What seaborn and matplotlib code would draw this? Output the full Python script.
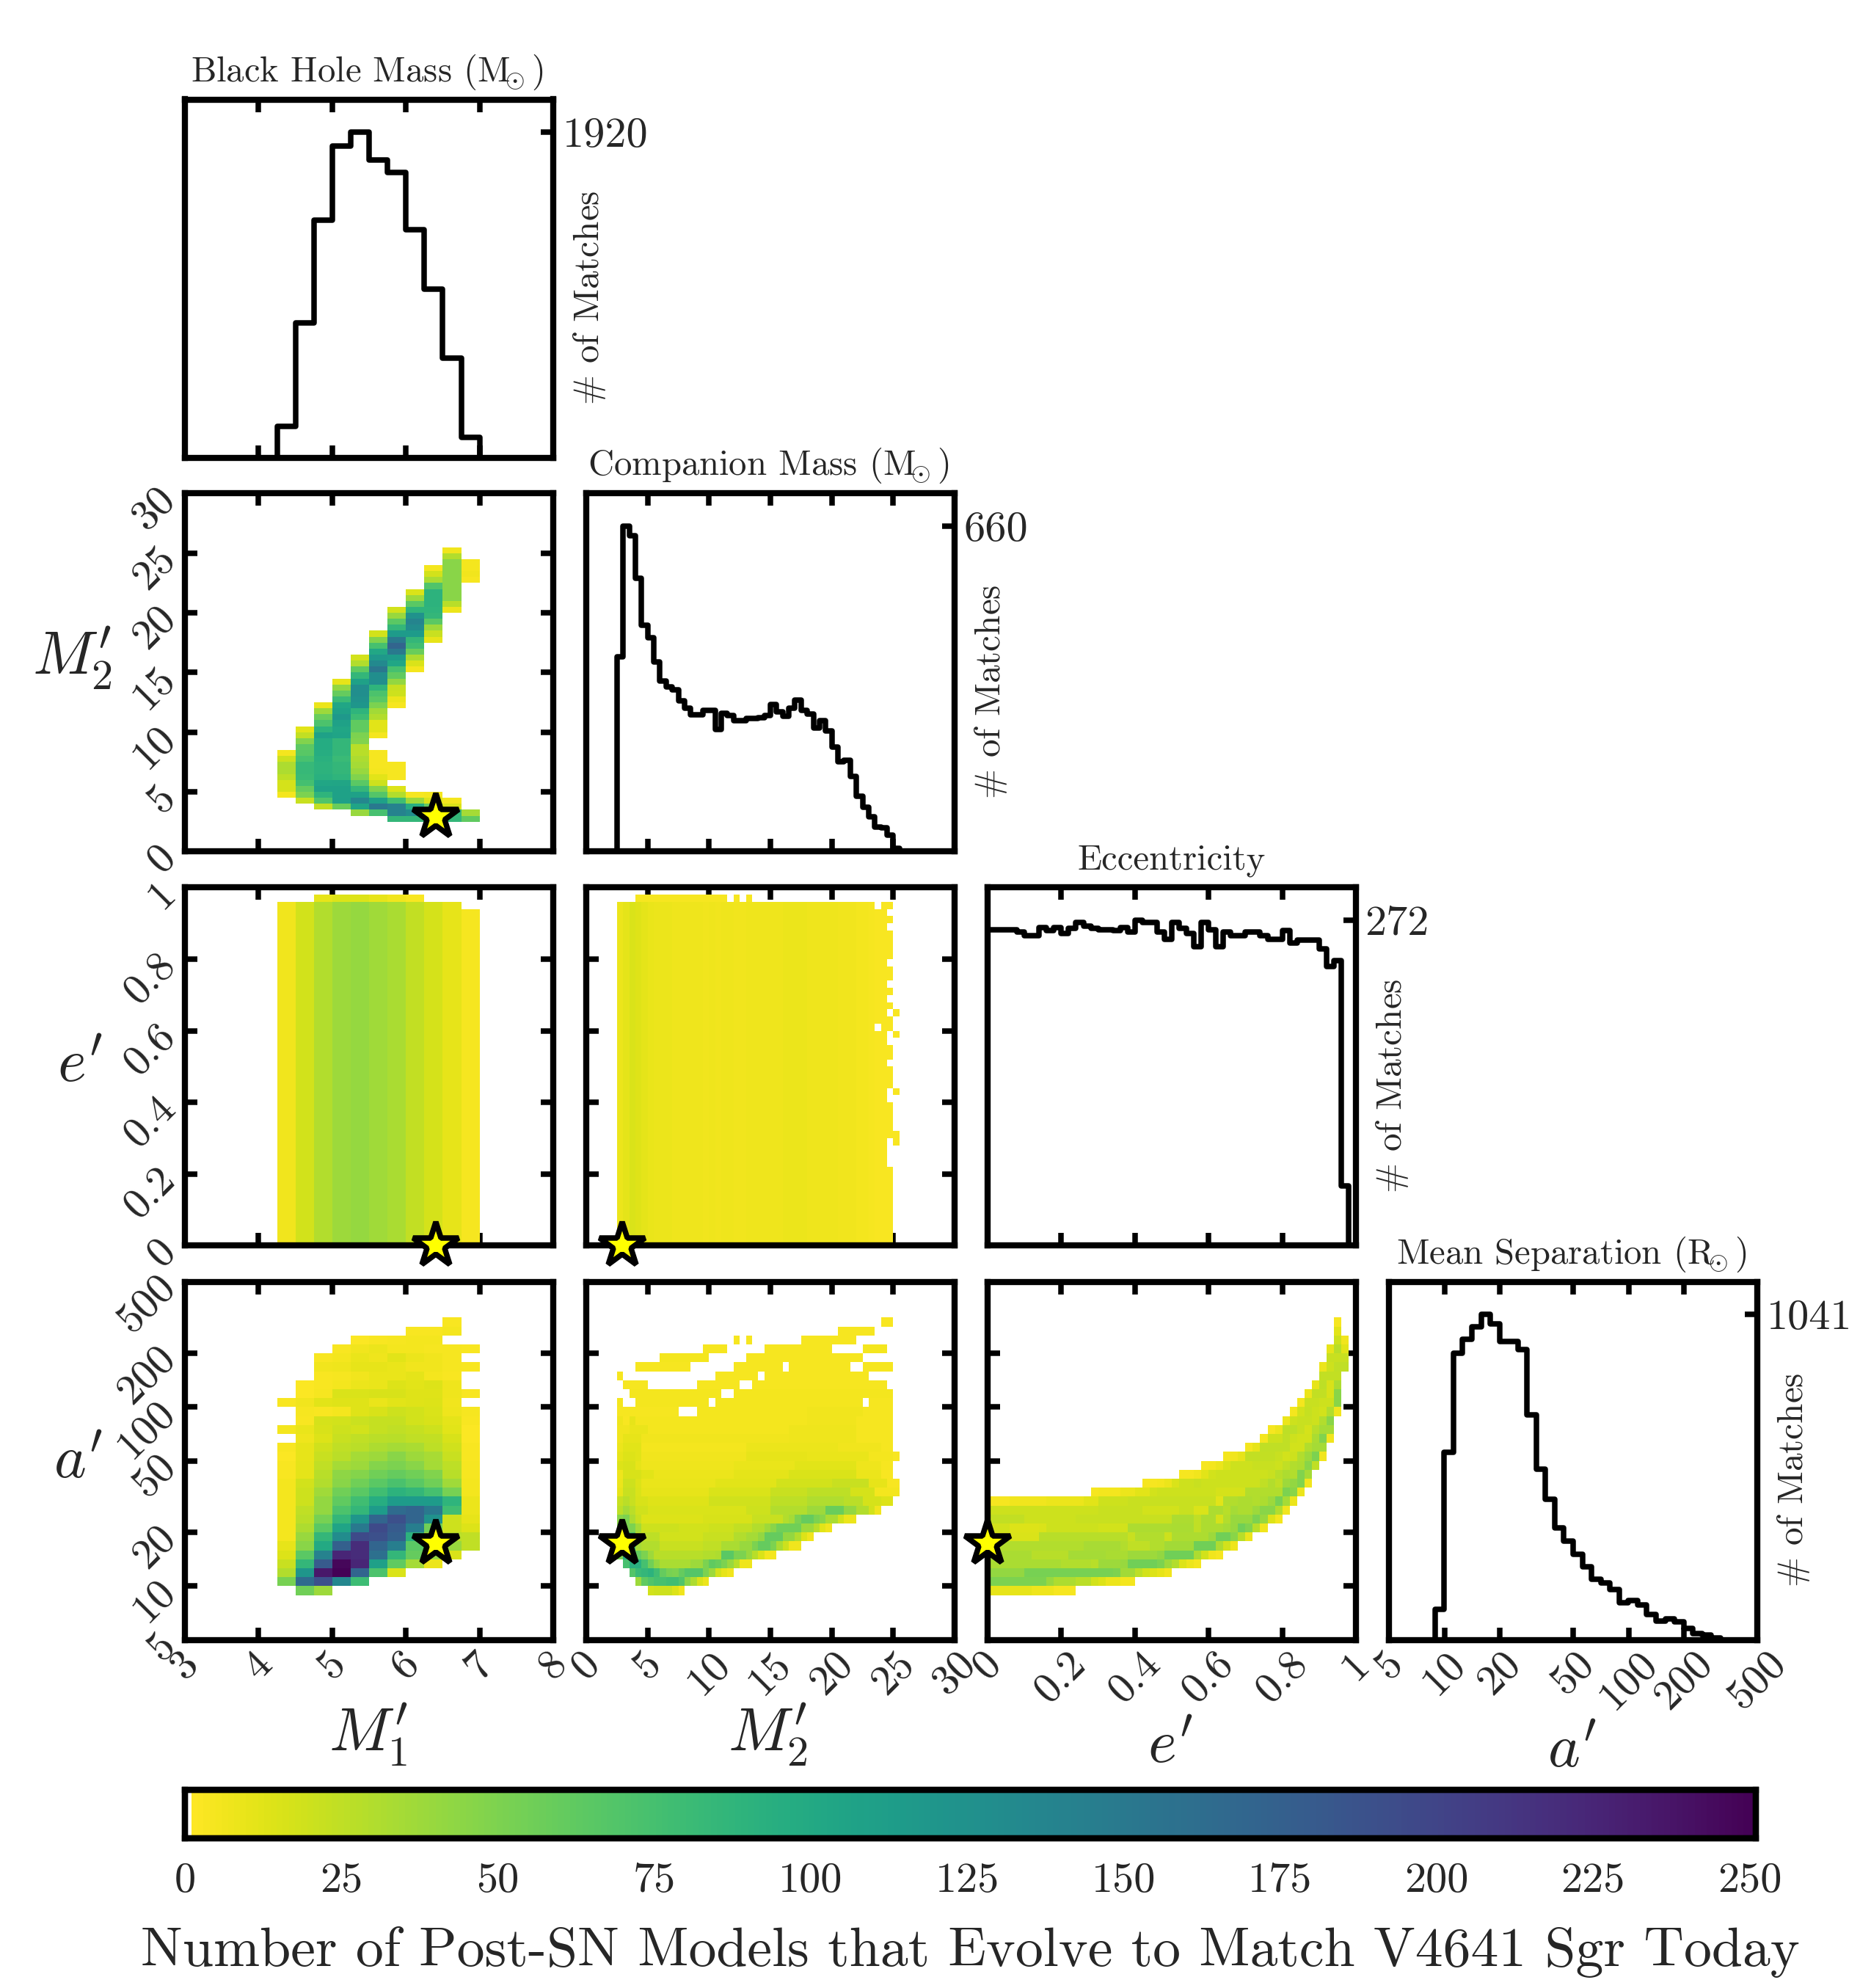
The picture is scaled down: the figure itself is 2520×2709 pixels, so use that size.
import numpy as np
import matplotlib
matplotlib.use("Agg")
import matplotlib.pyplot as plt
import seaborn as sns

# axis definitions: limits, number of bins, ticks
m1_lim, m1_bins = (3.0, 8.0), 20
m2_lim, m2_bins = (0.0, 30.0), 60
ecc_lim, ecc_bins = (0.0, 1.0), 50
sep_lim, sep_bins = (np.log10(5), np.log10(500)), 40

m1_ticks = [3, 4, 5, 6, 7, 8]
m2_ticks = [0, 5, 10, 15, 20, 25, 30]
ecc_ticks = [0, 0.2, 0.4, 0.6, 0.8, 1]
ecc_ticklabels = ["0", "0.2", "0.4", "0.6", "0.8", "1"]
sep_ticks = [5, 10, 20, 50, 100, 200, 500]

star_m1, star_m2, star_ecc, star_sep = 6.41, 2.9, 0.0, 17.3

# 1d histograms
hist_m1 = [0]*5 + [183, 793, 1399, 1839, 1920, 1753, 1683, 1343, 992, 585, 120] + [0]*4
hist_m2 = [0]*5 + [395, 660, 640, 554, 459, 433, 384, 345, 334, 328, 305, 291, 277, 278, 286, 286,
                   247, 281, 276, 265, 265, 270, 270, 271, 276, 298, 284, 275, 290, 307, 286, 279,
                   250, 266, 245, 212, 182, 185, 152, 112, 90, 71, 49, 48, 34, 6] + [0]*9
hist_ecc = [264, 264, 264, 264, 262, 259, 259, 266, 263, 266, 261, 265, 270, 267, 265, 264, 264,
            263, 266, 262, 272, 270, 270, 262, 256, 270, 265, 261, 250, 270, 264, 250, 262, 259,
            259, 262, 262, 259, 256, 256, 263, 253, 255, 255, 255, 248, 233, 238, 50, 0]
hist_sep = [0]*5 + [98, 600, 916, 961, 1000, 1041, 1011, 953, 953, 928, 720, 546, 449, 358, 315,
                    273, 234, 194, 181, 161, 118, 125, 111, 81, 60, 66, 57, 36, 21, 15, 6] + [0]*4

# M2 vs M1: per M1 column, first M2 bin and counts going up
m2_m1_first_col = 5
m2_m1_cols = [
    (9, [5, 17, 17, 26, 32, 32, 20, 5]),
    (8, [22, 50, 60, 76, 82, 84, 84, 74, 66, 64, 48, 24, 12]),
    (7, [24, 70, 88, 108, 103, 92, 90, 90, 92, 95, 97, 97, 108, 90, 72, 58, 38, 8]),
    (7, [58, 110, 108, 108, 104, 88, 85, 85, 82, 85, 85, 85, 105, 103, 108, 118, 108, 103, 82, 60, 42, 10]),
    (6, [40, 105, 135, 108, 85, 65, 48, 40, 35, 32, 28, 28, 48, 50, 62, 62, 80, 88, 120, 125, 128, 128,
         108, 85, 62, 30, 18]),
    (6, [75, 150, 110, 68, 48, 20, 12, 5, 4, 4, 4, 0, 0, 5, 12, 12, 30, 36, 50, 65, 72, 88, 128, 128,
         152, 133, 118, 102, 75, 48, 18]),
    (5, [85, 140, 140, 78, 30, 14, 0, 4, 4, 4] + [0]*9 + [4, 8, 20, 22, 42, 62, 75, 103, 115, 150, 170,
         150, 115, 85, 65, 40, 18]),
    (5, [85, 130, 95, 38, 4] + [0]*20 + [5, 15, 32, 58, 78, 85, 115, 130, 138, 125, 88, 65, 38, 15]),
    (5, [85, 100, 60, 15, 5] + [0]*25 + [10, 22, 38, 65, 85, 88, 90, 90, 90, 70, 33, 18, 5]),
    (5, [85, 85, 15, 5] + [0]*31 + [8, 28, 45, 45, 45, 45, 45, 45, 45, 30, 6]),
    (5, [62, 35] + [0]*38 + [4, 6, 5, 5]),
]

# e vs M1: column levels, top row of each column
ecc_m1_levels = [6, 18, 30, 38, 41, 37, 33, 24, 17, 10, 4]
ecc_m1_tops = [47, 47, 47, 47, 47, 47, 47, 47, 47, 47, 46]
ecc_m1_extra_row = [0, 0, 10, 14, 14, 10, 6, 3, 0, 0, 0]

# e vs M2: column levels (from M2=2.5), last filled column of each e row
ecc_m2_levels = [8, 11, 15, 13, 11, 9, 8, 8, 8, 7, 7, 7, 7, 7, 6, 7, 6, 7, 7, 6, 6, 7, 7, 7, 7, 7, 7,
                 8, 8, 8, 8, 7, 7, 7, 7, 7, 6, 6, 6, 5, 5, 4, 3, 3, 3, 3]
ecc_m2_last = [44]*11 + [43]*3 + [43, 45] + [44]*4 + [43, 43] + [44]*3 + [43, 44, 44, 43, 43, 44, 44,
               43, 44, 43, 44, 43, 44, 44, 43, 44, 44, 44, 44, 43, 44, 43, 44]
ecc_m2_far_cells = [14, 21, 29, 32]
ecc_m2_holes = [(30, 42), (47, 42)]
ecc_m2_row48 = [3, 4, 5, 6, 7, 8, 9, 10, 11, 12, 13, 14, 15, 16, 17, 19, 21]

# a vs M1: from a-bin 5 upwards, one list of 11 M1 bins per row
sep_m1_rows = [
    [0, 55, 38, 0, 0, 0, 0, 0, 0, 0, 0],
    [52, 165, 190, 135, 80, 0, 0, 0, 0, 0, 0],
    [30, 120, 235, 250, 170, 72, 15, 0, 0, 0, 0],
    [22, 85, 180, 247, 225, 110, 62, 35, 8, 0, 0],
    [14, 65, 140, 225, 220, 160, 85, 60, 40, 15, 0],
    [10, 45, 100, 175, 220, 170, 145, 65, 50, 40, 25],
    [5, 40, 85, 130, 195, 190, 175, 90, 40, 28, 25],
    [5, 32, 65, 105, 150, 195, 180, 145, 55, 20, 14],
    [5, 27, 52, 85, 120, 170, 190, 170, 125, 20, 10],
    [5, 25, 42, 72, 85, 115, 165, 170, 150, 78, 8],
    [5, 20, 42, 62, 78, 95, 115, 115, 115, 88, 8],
    [5, 20, 37, 55, 65, 78, 90, 85, 75, 52, 5],
    [5, 18, 30, 45, 55, 65, 73, 65, 55, 37, 5],
    [3, 11, 28, 43, 47, 55, 60, 55, 48, 28, 4],
    [3, 11, 25, 35, 38, 47, 50, 45, 35, 26, 4],
    [2, 10, 22, 27, 35, 38, 45, 38, 34, 22, 3],
    [3, 10, 19, 25, 27, 32, 35, 33, 26, 19, 3],
    [0, 7, 14, 22, 25, 27, 28, 25, 24, 16, 2],
    [5, 9, 16, 20, 18, 23, 25, 23, 20, 12, 2],
    [0, 3, 17, 18, 21, 23, 23, 18, 16, 11, 3],
    [0, 4, 3, 5, 13, 16, 20, 18, 15, 7, 4],
    [3, 6, 12, 13, 13, 9, 12, 13, 14, 6, 0],
    [0, 2, 4, 15, 15, 16, 16, 13, 13, 7, 3],
    [0, 2, 3, 5, 8, 9, 14, 12, 14, 7, 0],
    [0, 0, 3, 4, 6, 9, 9, 11, 5, 3, 0],
    [0, 0, 6, 7, 10, 10, 9, 6, 6, 4, 3],
    [0, 0, 3, 5, 9, 7, 12, 8, 6, 4, 0],
    [0, 0, 0, 3, 6, 8, 5, 5, 4, 4, 3],
    [0, 0, 0, 0, 2, 3, 4, 5, 5, 0, 0],
    [0, 0, 0, 0, 0, 0, 0, 3, 3, 5, 0],
    [0, 0, 0, 0, 0, 0, 0, 0, 0, 3, 0],
]

# a vs M2: runs (first col, last col, count) per a-bin, from a-bin 5 upwards. col 0 is M2=2.5
sep_m2_runs = [
    [(5, 8, 20), (5, 5, 18), (9, 9, 14), (10, 10, 6)],
    [(3, 3, 38), (4, 4, 62), (5, 5, 70), (6, 7, 75), (8, 9, 78), (10, 10, 70), (11, 11, 45), (12, 12, 32), (13, 13, 15), (14, 14, 8)],
    [(2, 2, 68), (3, 3, 82), (4, 4, 85), (5, 5, 90), (6, 6, 78), (7, 7, 60), (8, 8, 52), (9, 9, 50), (10, 10, 60), (11, 13, 68), (14, 14, 50), (15, 15, 38), (16, 16, 18), (17, 17, 10), (18, 18, 6)],
    [(1, 1, 75), (2, 3, 92), (4, 4, 75), (5, 5, 55), (6, 6, 42), (7, 11, 33), (12, 13, 38), (14, 14, 50), (15, 15, 62), (16, 16, 58), (17, 17, 50), (18, 18, 40), (19, 19, 28), (20, 21, 7)],
    [(0, 0, 50), (1, 1, 95), (2, 2, 100), (3, 3, 60), (4, 4, 50), (5, 5, 38), (6, 13, 28), (14, 15, 30), (16, 16, 32), (17, 18, 65), (19, 20, 50), (21, 21, 40), (22, 22, 28), (23, 23, 15), (24, 25, 5)],
    [(0, 1, 90), (2, 2, 80), (3, 3, 35), (4, 6, 30), (7, 13, 22), (14, 16, 25), (17, 19, 33), (20, 21, 40), (22, 22, 50), (23, 24, 60), (25, 25, 50), (26, 26, 33), (27, 27, 20), (28, 29, 6)],
    [(0, 2, 70), (3, 6, 26), (7, 13, 18), (14, 18, 22), (19, 20, 30), (21, 22, 35), (23, 23, 42), (24, 26, 60), (27, 28, 42), (29, 29, 30), (30, 30, 14), (31, 31, 6)],
    [(0, 2, 50), (3, 3, 35), (4, 9, 20), (10, 14, 18), (15, 18, 20), (19, 21, 24), (22, 23, 30), (24, 24, 38), (25, 25, 45), (26, 29, 55), (30, 31, 38), (32, 32, 28), (33, 33, 12), (34, 34, 6)],
    [(0, 0, 45), (1, 1, 50), (2, 2, 32), (3, 3, 22), (4, 13, 14), (14, 21, 16), (22, 26, 22), (27, 27, 30), (28, 28, 35), (29, 29, 50), (30, 31, 60), (32, 32, 50), (33, 33, 45), (34, 35, 33), (36, 36, 18), (37, 38, 8)],
    [(0, 0, 26), (1, 1, 35), (2, 2, 27), (3, 4, 19), (5, 20, 15), (21, 24, 20), (25, 30, 30), (31, 33, 38), (34, 36, 58), (37, 38, 42), (39, 40, 30), (41, 41, 18), (42, 42, 6)],
    [(0, 0, 22), (1, 1, 27), (2, 2, 22), (3, 4, 16), (5, 14, 13), (15, 24, 19), (25, 30, 26), (31, 36, 31), (37, 39, 27), (40, 42, 17), (43, 44, 14)],
    [(0, 0, 10), (1, 2, 22), (3, 3, 15), (4, 14, 10), (15, 24, 15), (25, 30, 22), (31, 37, 26), (38, 41, 17), (42, 45, 5)],
    [(0, 0, 8), (1, 2, 20), (3, 3, 14), (4, 15, 9), (16, 25, 12), (26, 34, 18), (35, 40, 22), (41, 43, 10), (44, 45, 3)],
    [(0, 0, 7), (1, 3, 16), (4, 5, 12), (6, 18, 8), (19, 27, 11), (28, 38, 15), (39, 42, 8), (43, 44, 3)],
    [(0, 0, 14), (1, 2, 16), (3, 3, 10), (4, 18, 7), (19, 28, 9), (29, 38, 12), (39, 42, 7), (43, 44, 4)],
    [(0, 0, 10), (1, 2, 14), (3, 3, 12), (4, 20, 6), (21, 30, 10), (31, 40, 9), (41, 44, 5), (45, 45, 3)],
    [(0, 0, 8), (1, 3, 12), (4, 20, 5), (21, 35, 8), (36, 42, 6), (43, 44, 4)],
    [(0, 0, 6), (1, 3, 10), (4, 27, 6), (28, 38, 7), (39, 44, 4)],
    [(0, 1, 6), (2, 4, 9), (5, 27, 5), (28, 38, 7), (39, 44, 4)],
    [(0, 0, 7), (1, 1, 3), (2, 2, 10), (3, 30, 5), (31, 38, 6), (39, 44, 4)],
    [(0, 9, 4), (13, 30, 5), (31, 39, 6), (40, 44, 4)],
    [(0, 0, 5), (3, 14, 5), (16, 39, 5), (41, 44, 4)],
    [(2, 16, 5), (19, 44, 5)],
    [(1, 4, 4), (13, 19, 4), (22, 43, 4)],
    [(0, 0, 4), (16, 22, 4), (24, 40, 4)],
    [(3, 11, 4), (19, 26, 4), (28, 37, 4), (40, 44, 4)],
    [(7, 14, 5), (21, 39, 4)],
    [(14, 17, 4), (24, 34, 4), (40, 43, 5)],
    [(19, 19, 4), (21, 21, 4), (30, 38, 4)],
    [(36, 41, 4)],
    [(43, 44, 3)],
]

# a vs e: runs (first col, last col, count) per a-bin, from a-bin 5 upwards
sep_ecc_runs = [
    [(0, 5, 10), (6, 8, 7), (9, 11, 4)],
    [(0, 7, 50), (8, 8, 40), (9, 11, 32), (12, 13, 27), (14, 14, 18), (15, 15, 14), (16, 17, 8), (18, 19, 5)],
    [(0, 4, 42), (5, 16, 52), (17, 17, 50), (18, 19, 36), (20, 20, 26), (21, 21, 18), (22, 22, 14), (23, 23, 10), (24, 24, 6)],
    [(0, 9, 33), (10, 13, 30), (14, 14, 28), (15, 17, 38), (18, 18, 40), (19, 22, 55), (23, 23, 50), (24, 24, 38), (25, 25, 30), (26, 26, 14), (27, 27, 8), (28, 28, 5)],
    [(0, 5, 33), (6, 10, 28), (11, 15, 35), (16, 18, 33), (19, 22, 38), (23, 23, 42), (24, 27, 55), (28, 28, 32), (29, 29, 18), (30, 30, 6), (31, 31, 4)],
    [(0, 12, 30), (13, 17, 34), (18, 18, 30), (19, 21, 25), (22, 23, 30), (24, 27, 36), (28, 30, 55), (31, 31, 32), (32, 32, 18), (33, 33, 7)],
    [(0, 6, 15), (7, 18, 28), (19, 19, 22), (20, 23, 30), (24, 24, 20), (25, 29, 32), (30, 30, 38), (31, 32, 55), (33, 33, 45), (34, 34, 28), (35, 35, 8)],
    [(0, 2, 18), (3, 6, 14), (7, 7, 15), (8, 14, 20), (15, 18, 18), (19, 24, 32), (25, 27, 33), (28, 28, 25), (29, 31, 32), (32, 32, 35), (33, 33, 40), (34, 34, 55), (35, 35, 48), (36, 36, 28), (37, 37, 6)],
    [(0, 4, 24), (5, 11, 20), (12, 24, 22), (25, 27, 32), (28, 28, 25), (29, 30, 32), (31, 31, 17), (32, 32, 30), (33, 35, 40), (36, 36, 50), (37, 37, 40), (38, 38, 14), (39, 39, 5)],
    [(0, 14, 20), (15, 20, 22), (21, 25, 18), (26, 27, 22), (28, 29, 15), (30, 31, 32), (32, 32, 28), (33, 33, 35), (34, 35, 32), (36, 36, 38), (37, 38, 45), (39, 39, 30), (40, 40, 6)],
    [(0, 2, 4), (3, 7, 6), (8, 12, 8), (13, 14, 12), (15, 18, 20), (19, 30, 22), (31, 31, 12), (32, 33, 30), (34, 35, 32), (36, 36, 30), (37, 37, 32), (38, 38, 38), (39, 39, 52), (40, 40, 35), (41, 41, 8)],
    [(14, 14, 4), (15, 17, 5), (18, 19, 8), (20, 21, 12), (22, 22, 18), (23, 30, 20), (31, 34, 17), (35, 39, 30), (40, 40, 50), (41, 41, 45), (42, 42, 8)],
    [(21, 22, 4), (23, 23, 5), (24, 24, 8), (25, 25, 15), (26, 27, 20), (28, 28, 22), (29, 36, 20), (37, 37, 25), (38, 38, 30), (39, 39, 25), (40, 40, 38), (41, 41, 42), (42, 42, 48), (43, 43, 6)],
    [(26, 27, 4), (28, 28, 6), (29, 29, 12), (30, 30, 18), (31, 37, 20), (38, 38, 22), (39, 39, 28), (40, 40, 32), (41, 41, 30), (42, 42, 48), (43, 43, 35)],
    [(29, 29, 4), (30, 30, 5), (31, 31, 8), (32, 32, 15), (33, 35, 20), (36, 38, 22), (39, 39, 20), (40, 40, 25), (41, 41, 30), (42, 42, 32), (43, 43, 45), (44, 44, 25)],
    [(32, 32, 5), (33, 33, 6), (34, 34, 10), (35, 38, 24), (39, 39, 22), (40, 40, 18), (41, 41, 20), (42, 42, 30), (43, 43, 38), (44, 44, 50), (45, 45, 6)],
    [(35, 35, 5), (36, 36, 10), (37, 40, 25), (41, 42, 18), (43, 43, 30), (44, 45, 35)],
    [(37, 37, 5), (38, 39, 20), (40, 40, 25), (41, 41, 20), (42, 43, 18), (44, 44, 33), (45, 45, 48), (46, 46, 6)],
    [(38, 38, 4), (39, 39, 8), (40, 41, 26), (42, 42, 22), (43, 43, 17), (44, 44, 28), (45, 46, 35)],
    [(40, 40, 8), (41, 41, 20), (42, 43, 22), (44, 44, 20), (45, 45, 30), (46, 46, 45)],
    [(41, 41, 5), (42, 42, 18), (43, 43, 23), (44, 44, 20), (45, 45, 18), (46, 46, 30), (47, 47, 6)],
    [(42, 42, 5), (43, 44, 22), (45, 46, 20), (47, 47, 45)],
    [(43, 43, 8), (44, 45, 24), (46, 46, 16), (47, 47, 45)],
    [(44, 44, 10), (45, 45, 26), (46, 46, 16), (47, 47, 32)],
    [(45, 47, 24)],
    [(45, 45, 8), (46, 46, 20), (47, 48, 25)],
    [(46, 48, 22)],
    [(46, 46, 10), (47, 47, 28), (48, 48, 12)],
    [(47, 47, 20), (48, 48, 6)],
    [(47, 47, 12)],
    [(47, 47, 4)],
]

# panel frames in pixels of the 2520x2709 figure
FIG_W, FIG_H = 2520, 2709
col_left = [252, 799, 1346, 1893]
row_top = [135.5, 672.4, 1209.4, 1746.5]
panel_w, panel_h = 502, 488

sns.set_style("ticks")
plt.rcParams["font.family"] = ["cmr10", "DejaVu Sans"]
plt.rcParams["mathtext.fontset"] = "cm"
plt.rcParams["axes.formatter.use_mathtext"] = True
plt.rcParams["axes.unicode_minus"] = False
plt.rcParams["axes.linewidth"] = 2.0

cmap = plt.get_cmap("viridis_r")
VMIN, VMAX = 1, 251
LW_TICK = 1.8
TITLE_SIZE = 11.7


def panel(col, row):
    ax = fig.add_axes([col_left[col]/FIG_W, 1-(row_top[row]+panel_h)/FIG_H, panel_w/FIG_W, panel_h/FIG_H])
    return ax


def style_axes(ax):
    for s in ax.spines.values():
        s.set_visible(True)
        s.set_linewidth(2.0)
        s.set_color("k")
    ax.tick_params(which="both", direction="in", length=4, width=LW_TICK, labelsize=14,
                   top=True, bottom=True, color="k")


def grid_from_runs(runs, n_cols, col_offset, row_offset, n_rows):
    grid = np.zeros((n_rows, n_cols))
    for j, row in enumerate(runs):
        for first, last, val in row:
            grid[j+row_offset, first+col_offset:last+col_offset+1] = val
    return grid


def to_cell(v, lim, n):
    return (np.asarray(v, dtype=float)-lim[0])/(lim[1]-lim[0])*n


def draw_heat(ax, grid, xspec, yspec, star, cax=None):
    xlim, xn, xticks, xlabels = xspec
    ylim, yn, yticks, ylabels = yspec
    kw = dict(cbar=False)
    if cax is not None:
        kw = dict(cbar=True, cbar_ax=cax, cbar_kws={"orientation": "horizontal"})
    sns.heatmap(grid, mask=grid == 0, cmap=cmap, vmin=VMIN, vmax=VMAX, ax=ax,
                xticklabels=False, yticklabels=False, **kw)
    ax.set_xlim(0, xn)
    ax.set_ylim(0, yn)
    style_axes(ax)
    ax.tick_params(right=True, left=True)
    ax.set_xticks(to_cell(xticks, xlim, xn))
    ax.set_yticks(to_cell(yticks, ylim, yn))
    ax.set_xticklabels([])
    ax.set_yticklabels([])
    ax.plot(to_cell(star[0], xlim, xn), to_cell(star[1], ylim, yn), marker="*", ms=15.5, mfc="yellow",
            mec="k", mew=1.8, clip_on=False, zorder=10, ls="none")


def draw_hist(ax, values, spec, peak_label):
    lim, n, ticks, labels = spec
    edges = np.linspace(lim[0], lim[1], n+1)
    centers = (edges[:-1]+edges[1:])/2
    sns.histplot(x=centers, weights=values, bins=edges.tolist(), element="step", fill=False, color="k",
                 linewidth=1.8, ax=ax)
    ax.set_xlim(*lim)
    ax.set_ylim(0, 1.1*max(values))
    style_axes(ax)
    ax.set_xticks(ticks)
    ax.set_xticklabels([])
    ax.yaxis.tick_right()
    ax.tick_params(right=True, left=False, direction="in", length=4, width=LW_TICK, pad=3)
    ax.set_yticks([max(values)])
    ax.set_yticklabels([peak_label])
    ax.yaxis.set_label_position("right")
    ax.set_ylabel(r"$\#$ of Matches", fontsize=11.8, rotation=90, va="center")
    ax.yaxis.set_label_coords(1.097, 0.447)
    ax.set_xlabel("")


def bottom_labels(ax, ticks, labels, name, x, y):
    ax.set_xticks(ticks)
    ax.set_xticklabels(labels, rotation=45, ha="center")
    ax.tick_params(axis="x", labelbottom=True, pad=1.7)
    ax.set_xlabel(name, fontsize=20, va="center")
    ax.xaxis.set_label_coords(x, y)


def left_labels(ax, ticks, labels, name, x, y):
    ax.set_yticks(ticks)
    ax.set_yticklabels(labels, rotation=45, va="center", ha="right", rotation_mode="anchor")
    ax.tick_params(axis="y", labelleft=True, pad=5)
    ax.set_ylabel(name, fontsize=20, rotation=0, va="center", ha="center")
    ax.yaxis.set_label_coords(x, y)


# build the 2d grids
grid_m2_m1 = np.zeros((m2_bins, m1_bins))
for i, (start, vals) in enumerate(m2_m1_cols):
    grid_m2_m1[start:start+len(vals), m2_m1_first_col+i] = vals

grid_ecc_m1 = np.zeros((ecc_bins, m1_bins))
for i, (level, top, extra) in enumerate(zip(ecc_m1_levels, ecc_m1_tops, ecc_m1_extra_row)):
    grid_ecc_m1[:top+1, m2_m1_first_col+i] = level
    grid_ecc_m1[48, m2_m1_first_col+i] = extra

grid_ecc_m2 = np.zeros((ecc_bins, m2_bins))
for r, last in enumerate(ecc_m2_last):
    grid_ecc_m2[r, 5:5+last+1] = ecc_m2_levels[:last+1]
for r in ecc_m2_far_cells:
    grid_ecc_m2[r, 5+45] = ecc_m2_levels[45]
for r, k in ecc_m2_holes:
    grid_ecc_m2[r, 5+k] = 0
grid_ecc_m2[48, [5+k for k in ecc_m2_row48]] = 4

grid_sep_m1 = np.zeros((sep_bins, m1_bins))
grid_sep_m1[5:5+len(sep_m1_rows), m2_m1_first_col:m2_m1_first_col+11] = np.array(sep_m1_rows)

grid_sep_m2 = grid_from_runs(sep_m2_runs, m2_bins, 5, 5, sep_bins)
grid_sep_ecc = grid_from_runs(sep_ecc_runs, ecc_bins, 0, 5, sep_bins)

sep_tick_pos = list(np.log10(sep_ticks))
sep_labels = [str(t) for t in sep_ticks]
m1_labels = [str(t) for t in m1_ticks]
m2_labels = [str(t) for t in m2_ticks]

m1_spec = (m1_lim, m1_bins, m1_ticks, m1_labels)
m2_spec = (m2_lim, m2_bins, m2_ticks, m2_labels)
ecc_spec = (ecc_lim, ecc_bins, ecc_ticks, ecc_ticklabels)
sep_spec = (sep_lim, sep_bins, sep_tick_pos, sep_labels)

fig = plt.figure(figsize=(FIG_W/300, FIG_H/300), dpi=300)

# diagonal
ax = panel(0, 0)
draw_hist(ax, hist_m1, m1_spec, "1920")
ax.set_title(r"Black Hole Mass ($\mathrm{M}\!\!_\odot$)", fontsize=TITLE_SIZE, pad=6, x=0.495)
ax = panel(1, 1)
draw_hist(ax, hist_m2, m2_spec, "660")
ax.set_title(r"Companion Mass ($\mathrm{M}\!\!_\odot$)", fontsize=TITLE_SIZE, pad=6, x=0.495)
ax = panel(2, 2)
draw_hist(ax, hist_ecc, ecc_spec, "272")
ax.set_title("Eccentricity", fontsize=TITLE_SIZE, pad=6)
ax = panel(3, 3)
draw_hist(ax, hist_sep, sep_spec, "1041")
ax.set_title(r"Mean Separation ($\mathrm{R}\!\!_\odot$)", fontsize=TITLE_SIZE, pad=6, x=0.495)
bottom_labels(ax, sep_tick_pos, sep_labels, r"$a'$", 0.497, -0.314)

# off-diagonal
cax = fig.add_axes([252/FIG_W, 1-2505/FIG_H, (2393-252)/FIG_W, (2505-2439)/FIG_H])

ax = panel(0, 1)
draw_heat(ax, grid_m2_m1, m1_spec, m2_spec, (star_m1, star_m2))
left_labels(ax, to_cell(m2_ticks, m2_lim, m2_bins), m2_labels, r"$M_2'$", -0.305, 0.54)

ax = panel(0, 2)
draw_heat(ax, grid_ecc_m1, m1_spec, ecc_spec, (star_m1, star_ecc))
left_labels(ax, to_cell(ecc_ticks, ecc_lim, ecc_bins), ecc_ticklabels, r"$e'$", -0.285, 0.50)

ax = panel(0, 3)
draw_heat(ax, grid_sep_m1, m1_spec, (sep_lim, sep_bins, sep_tick_pos, sep_labels),
          (star_m1, np.log10(star_sep)), cax=cax)
left_labels(ax, to_cell(sep_tick_pos, sep_lim, sep_bins), sep_labels, r"$a'$", -0.29, 0.495)
bottom_labels(ax, to_cell(m1_ticks, m1_lim, m1_bins), m1_labels, r"$M_1'$", 0.497, -0.265)

ax = panel(1, 2)
draw_heat(ax, grid_ecc_m2, m2_spec, ecc_spec, (star_m2, star_ecc))

ax = panel(1, 3)
draw_heat(ax, grid_sep_m2, m2_spec, (sep_lim, sep_bins, sep_tick_pos, sep_labels),
          (star_m2, np.log10(star_sep)))
bottom_labels(ax, to_cell(m2_ticks, m2_lim, m2_bins), m2_labels, r"$M_2'$", 0.493, -0.265)

ax = panel(2, 3)
draw_heat(ax, grid_sep_ecc, ecc_spec, (sep_lim, sep_bins, sep_tick_pos, sep_labels),
          (star_ecc, np.log10(star_sep)))
bottom_labels(ax, to_cell(ecc_ticks, ecc_lim, ecc_bins), ecc_ticklabels, r"$e'$", 0.495, -0.30)

# colorbar
cax.set_xlim(0, VMAX)
cax.set_xticks(np.arange(0, 251, 25))
cax.set_xticklabels([str(t) for t in range(0, 251, 25)])
cax.tick_params(axis="x", direction="in", length=4, width=LW_TICK, labelsize=14, pad=8, bottom=True, top=False)
cax.set_xlabel("Number of Post-SN Models that Evolve to Match V4641 Sgr Today", fontsize=18.2, labelpad=8.5)
for s in cax.spines.values():
    s.set_visible(True)
    s.set_linewidth(2.0)
    s.set_color("k")

fig.savefig("out.png", dpi=300, facecolor="white")
